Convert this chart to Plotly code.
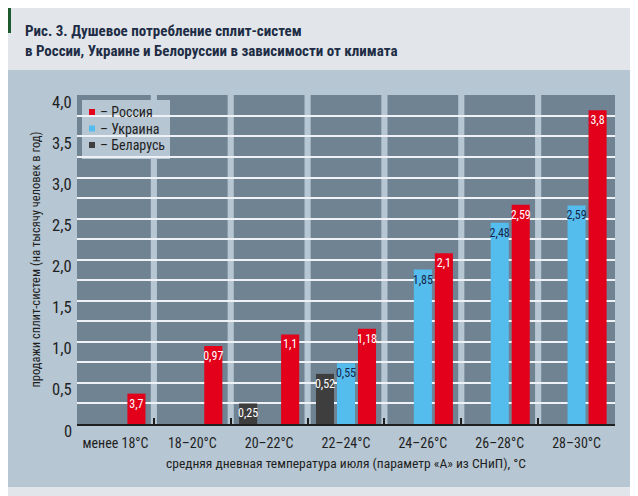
import plotly.graph_objects as go

# categories on the x axis (July mean daily temperature bands)
categories = ["менее 18°C", "18–20°C", "20–22°C", "22–24°C", "24–26°C", "26–28°C", "28–30°C"]

# bar heights as drawn in the picture
russia = [0.37, 0.95, 1.09, 1.16, 2.08, 2.67, 3.82]
ukraine = [None, None, None, 0.74, 1.88, 2.45, 2.66]
belarus = [None, None, 0.25, 0.61, None, None, None]

# labels as printed on the bars
russia_labels = ["3,7", "0,97", "1,1", "1,18", "2,1", "2,59", "3,8"]
ukraine_labels = ["", "", "", "0,55", "1,85", "2,48", "2,59"]
belarus_labels = ["", "", "0,25", "0,52", "", "", ""]

y_tickvals = [0, 0.5, 1.0, 1.5, 2.0, 2.5, 3.0, 3.5, 4.0]
y_ticktext = ["0", "0,5", "1,0", "1,5", "2,0", "2,5", "3,0", "3,5", "4,0"]

legend_names = ["– Россия", "– Украина", "– Беларусь"]

RED = "#e2001a"
BLUE = "#55bcee"
GRAY = "#3e3e3e"
PANEL = "#6f8393"
BOX = "#b6c6d2"
OUTER = "#e2e6ea"
GRID = "#eef2f6"
INK = "#1f1f1f"
FONT = "Roboto Condensed, Roboto, sans-serif"

# the page body adds an 8px margin, so the figure is drawn 8px smaller
PAGE = 8
W, H = 638 - PAGE, 496 - PAGE
L, R, T, B = 77, 615, 95, 424   # plot area in window pixels


def px(x):
    return (x - L) / (R - L)


def py(y):
    return (B - y) / (B - T)


def bars(vals, labels, name, color, txtcolor):
    return go.Bar(x=categories, y=vals, name=name, marker_color=color,
                  marker_line_width=0, text=labels, textposition="inside",
                  insidetextanchor="end", textangle=0, constraintext="none",
                  textfont=dict(family=FONT, size=12, color=txtcolor),
                  showlegend=False, hoverinfo="x+y")


fig = go.Figure([
    bars(belarus, belarus_labels, "Беларусь", GRAY, "white"),
    bars(ukraine, ukraine_labels, "Украина", BLUE, "#16264a"),
    bars(russia, russia_labels, "Россия", RED, "white"),
])

shapes = [
    # light chart box and dark plot panel
    dict(type="rect", xref="paper", yref="paper", x0=px(6), x1=px(633), y0=py(487), y1=py(70),
         fillcolor=BOX, line_width=0, layer="below"),
    dict(type="rect", xref="paper", yref="paper", x0=0, x1=1, y0=0, y1=1,
         fillcolor=PANEL, line_width=0, layer="below"),
    # green mark top left
    dict(type="rect", xref="paper", yref="paper", x0=px(0), x1=px(11), y0=py(33), y1=py(0),
         fillcolor="#1d5a30", line_width=0, layer="below"),
]
# light bands between the category panels
for i in range(len(categories) - 1):
    shapes.append(dict(type="rect", xref="x", yref="paper", x0=i + 0.5 - 0.04, x1=i + 0.5 + 0.04,
                       y0=0, y1=1, fillcolor=BOX, line_width=0, layer="between"))

# hand-made legend box
shapes.append(dict(type="rect", xref="paper", yref="paper", x0=px(82), x1=px(170), y0=py(159), y1=py(100),
                   fillcolor=BOX, line_width=0, layer="between"))
annotations = []
for k, (name, color) in enumerate(zip(legend_names, [RED, BLUE, GRAY])):
    cy = 112 + k * 16.5
    shapes.append(dict(type="rect", xref="paper", yref="paper", x0=px(89), x1=px(95),
                       y0=py(cy + 3), y1=py(cy - 3), fillcolor=color, line_width=0, layer="between"))
    annotations.append(dict(xref="paper", yref="paper", x=px(98), y=py(cy), xanchor="left", yanchor="middle",
                            text=name, showarrow=False, font=dict(family=FONT, size=14, color=INK)))

# y tick labels sit a little below their gridlines in the original
for v, t in zip(y_tickvals, y_ticktext):
    annotations.append(dict(xref="paper", yref="y", x=px(74), y=v, yshift=-7, xanchor="right",
                            yanchor="middle", text=t, showarrow=False,
                            font=dict(family=FONT, size=16.5, color=INK)))

annotations.append(dict(xref="paper", yref="paper", x=px(35), y=0.5, textangle=-90,
                        xanchor="center", yanchor="middle", showarrow=False,
                        text="продажи сплит-систем (на тысячу человек в год)",
                        font=dict(family=FONT, size=12.5, color=INK)))

annotations.append(dict(xref="paper", yref="paper", x=px(23), y=py(20), xanchor="left", yanchor="top",
                        align="left", showarrow=False,
                        text="<b>Рис. 3. Душевое потребление сплит-систем<br>"
                             "в России, Украине и Белоруссии в зависимости от климата</b>",
                        font=dict(family=FONT, size=15, color="#1e2d45")))

fig.update_layout(
    width=W, height=H,
    margin=dict(l=L - PAGE, r=638 - R, t=T - PAGE, b=496 - B, autoexpand=False),
    paper_bgcolor=OUTER, plot_bgcolor=PANEL,
    barmode="group", bargap=0.18, bargroupgap=0.14,
    shapes=shapes, annotations=annotations,
    font=dict(family=FONT, color=INK),
    showlegend=False,
)
fig.update_xaxes(
    type="category", range=[-0.5, len(categories) - 0.5], tickson="boundaries",
    ticks="inside", ticklen=6, tickwidth=1.5, tickcolor=INK, tickangle=0,
    showline=True, linecolor=INK, linewidth=1.5, showgrid=False,
    tickfont=dict(size=14, color=INK), ticklabelstandoff=5,
    title=dict(text="средняя дневная температура июля (параметр «А» из СНиП), °C",
               font=dict(size=13.5, color=INK), standoff=9),
)
fig.update_yaxes(
    range=[0, 4.005], tickvals=y_tickvals, showticklabels=False,
    showgrid=True, gridcolor=GRID, gridwidth=1.5, zeroline=False, showline=False,
    minor=dict(tickmode="linear", tick0=0, dtick=0.25, showgrid=True, gridcolor=GRID, gridwidth=1.5),
)

fig.write_html("out.html")
